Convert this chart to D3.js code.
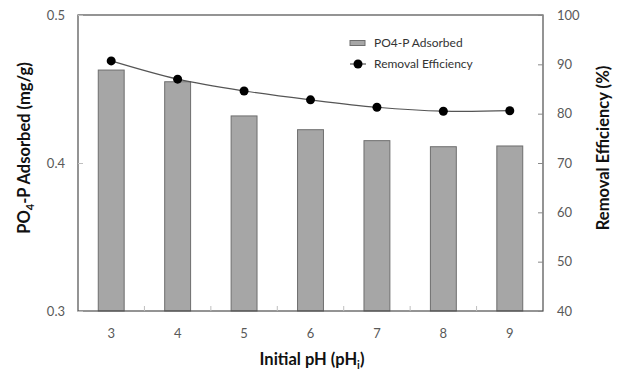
<!DOCTYPE html>
<html><head><meta charset="utf-8">
<script src="https://cdn.jsdelivr.net/npm/d3@7"></script>
<style>body{margin:0;background:#fff}svg{display:block}</style>
</head><body><svg id="c" width="617" height="374"></svg>
<script>
const categories = ["3","4","5","6","7","8","9"];
const adsorbed = [0.4628, 0.4549, 0.4318, 0.4225, 0.4151, 0.4110, 0.4115];
const efficiency = [90.7, 87.0, 84.6, 82.8, 81.3, 80.5, 80.6];
const leftTicks = [0.3, 0.4, 0.5];
const rightTicks = [40, 50, 60, 70, 80, 90, 100];

const svg = d3.select("#c");
const m = {l: 78, r: 543, t: 15, b: 311};
const x = d3.scaleBand().domain(categories).range([m.l, m.r]).paddingInner(0).paddingOuter(0);
const yL = d3.scaleLinear().domain([0.3, 0.5]).range([m.b, m.t]);
const yR = d3.scaleLinear().domain([40, 100]).range([m.b, m.t]);
const font = "Lato, 'Open Sans', sans-serif";
const tickCol = "#595959";

// bars
const bw = x.bandwidth() * 0.39;
svg.append("g").selectAll("rect").data(categories).join("rect")
  .attr("x", (d) => x(d) + x.bandwidth()/2 - bw/2)
  .attr("y", (d,i) => yL(adsorbed[i]))
  .attr("width", bw)
  .attr("height", (d,i) => yL(0.3) - yL(adsorbed[i]))
  .attr("fill", "#a6a6a6").attr("stroke", "#6e6e6e").attr("stroke-width", 1);

// frame
svg.append("rect").attr("x", m.l).attr("y", m.t).attr("width", m.r - m.l).attr("height", m.b - m.t)
  .attr("fill", "none").attr("stroke", "#4d4d4d").attr("stroke-width", 1.2);

// left axis
const gL = svg.append("g").attr("transform", `translate(${m.l},0)`)
  .call(d3.axisLeft(yL).tickValues(leftTicks).tickFormat(d3.format(".1f")).tickSizeInner(-5).tickSizeOuter(0).tickPadding(13));
gL.select(".domain").remove();
gL.selectAll("line").attr("stroke", "#bfbfbf");
gL.selectAll("text").attr("font-family", font).attr("font-size", 13).attr("fill", tickCol);

// right axis
const gR = svg.append("g").attr("transform", `translate(${m.r},0)`)
  .call(d3.axisRight(yR).tickValues(rightTicks).tickSizeInner(-5).tickSizeOuter(0).tickPadding(14));
gR.select(".domain").remove();
gR.selectAll("line").attr("stroke", "#888");
gR.selectAll("text").attr("font-family", font).attr("font-size", 13).attr("fill", tickCol);

// bottom axis: labels and boundary ticks
const gB = svg.append("g").attr("transform", `translate(0,${m.b})`)
  .call(d3.axisBottom(x).tickSize(0).tickPadding(18));
gB.select(".domain").remove();
gB.selectAll("text").attr("font-family", font).attr("font-size", 13).attr("fill", tickCol);
svg.append("g").selectAll("line").data(categories.slice(1)).join("line")
  .attr("x1", d => x(d)).attr("x2", d => x(d))
  .attr("y1", m.b).attr("y2", m.b - 5).attr("stroke", "#bfbfbf");

// line
const cx = (d) => x(d) + x.bandwidth()/2;
const line = d3.line().x((d,i) => cx(categories[i])).y(d => yR(d)).curve(d3.curveCatmullRom.alpha(0.5));
svg.append("path").datum(efficiency).attr("d", line)
  .attr("fill", "none").attr("stroke", "#555").attr("stroke-width", 1.2);
svg.append("g").selectAll("circle").data(efficiency).join("circle")
  .attr("cx", (d,i) => cx(categories[i])).attr("cy", d => yR(d)).attr("r", 4.5).attr("fill", "#000");

// legend
const lg = svg.append("g");
lg.append("rect").attr("x", 350).attr("y", 40.5).attr("width", 15).attr("height", 5)
  .attr("fill", "#a6a6a6").attr("stroke", "#6e6e6e");
lg.append("text").attr("x", 374).attr("y", 47).text("PO4-P Adsorbed")
  .attr("font-family", font).attr("font-size", 12).attr("fill", "#333");
lg.append("line").attr("x1", 350).attr("x2", 366).attr("y1", 64).attr("y2", 64).attr("stroke", "#555").attr("stroke-width", 1.2);
lg.append("circle").attr("cx", 358).attr("cy", 64).attr("r", 4.5).attr("fill", "#000");
lg.append("text").attr("x", 374).attr("y", 68).text("Removal Efficiency")
  .attr("font-family", font).attr("font-size", 12).attr("fill", "#333");

// titles
const tL = svg.append("text").attr("transform", "translate(30,148) rotate(-90)")
  .attr("text-anchor", "middle").attr("font-family", font).attr("font-size", 16.5).attr("font-weight", "bold").attr("fill", "#111");
tL.append("tspan").text("PO");
tL.append("tspan").text("4").attr("font-size", 11).attr("dy", 4);
tL.append("tspan").text("-P Adsorbed (mg/g)").attr("dy", -4);

svg.append("text").attr("transform", "translate(609,148) rotate(-90)")
  .attr("text-anchor", "middle").attr("font-family", font).attr("font-size", 16.5).attr("font-weight", "bold").attr("fill", "#111")
  .text("Removal Efficiency (%)");

const tB = svg.append("text").attr("x", 312).attr("y", 365)
  .attr("text-anchor", "middle").attr("font-family", font).attr("font-size", 16.5).attr("font-weight", "bold").attr("fill", "#111");
tB.append("tspan").text("Initial pH (pH");
tB.append("tspan").text("i").attr("font-size", 11).attr("dy", 4);
tB.append("tspan").text(")").attr("dy", -4);
</script></body></html>
